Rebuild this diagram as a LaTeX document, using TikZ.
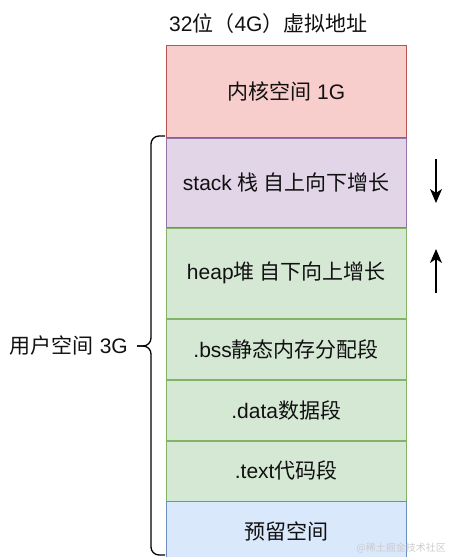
\documentclass[tikz,border=0pt]{standalone}
\usepackage{fontspec}
\setmainfont{Liberation Sans}
\newfontfamily\cjk{Noto Sans CJK SC}
\usetikzlibrary{arrows.meta}
\definecolor{kfill}{HTML}{F8CECC}
\definecolor{kdraw}{HTML}{B85450}
\definecolor{sfill}{HTML}{E1D5E7}
\definecolor{sdraw}{HTML}{9673A6}
\definecolor{gfill}{HTML}{D5E8D4}
\definecolor{gdraw}{HTML}{82B366}
\definecolor{bfill}{HTML}{DAE8FC}
\definecolor{bdraw}{HTML}{6C8EBF}
\definecolor{txt}{HTML}{111111}
\begin{document}
\begin{tikzpicture}[x=1pt,y=-1pt,
  seg/.style={draw, line width=0.9pt, minimum width=240.5pt, inner sep=0pt, anchor=north west,
    font=\fontsize{21}{24}\selectfont, text=txt},
  lbl/.style={inner sep=0pt, font=\fontsize{21}{24}\selectfont, text=txt},
  growarrow/.style={draw=black, line width=1.5pt, -{Stealth[length=14pt,width=12pt,inset=4pt]}},
  bracepath/.style={draw=black, line width=1.3pt, rounded corners=8pt}
]
\useasboundingbox (0,0) rectangle (449,557);
\node[lbl, anchor=west] (title) at (169,24) {32{\cjk 位（}4G{\cjk ）虚拟地址}};
\node[seg, fill=kfill, draw=kdraw, minimum height=92pt] (kernel) at (165.5,45) {{\cjk 内核空间} 1G};
\node[seg, fill=sfill, draw=sdraw, minimum height=89pt] (stack) at (kernel.south west) {stack {\cjk 栈 自上向下增长}};
\node[seg, fill=gfill, draw=gdraw, minimum height=90pt] (heap) at (stack.south west) {heap{\cjk 堆 自下向上增长}};
\node[seg, fill=gfill, draw=gdraw, minimum height=60pt] (bss) at (heap.south west) {.bss{\cjk 静态内存分配段}};
\node[seg, fill=gfill, draw=gdraw, minimum height=60pt] (data) at (bss.south west) {.data{\cjk 数据段}};
\node[seg, fill=gfill, draw=gdraw, minimum height=60pt] (text) at (data.south west) {.text{\cjk 代码段}};
\node[seg, fill=bfill, draw=bdraw, minimum height=60pt] (reserved) at (text.south west) {{\cjk 预留空间}};
\node[lbl, anchor=east] (user) at (128,346) {{\cjk 用户空间} 3G};
\coordinate (sa1) at (436,159);
\coordinate (sa2) at (436,203);
\coordinate (ha1) at (436,293);
\coordinate (ha2) at (436,249);
\draw[growarrow] (sa1) -- (sa2);
\draw[growarrow] (ha1) -- (ha2);
\coordinate (btop) at (165,136);
\coordinate (bbot) at (165,555);
\coordinate (btip) at (137,346);
\draw[bracepath] (btop) -- (151,136) -- (151,346) -- (btip);
\draw[bracepath] (bbot) -- (151,555) -- (151,346) -- (btip);
\node[inner sep=0pt, anchor=east, font=\cjk\fontsize{10}{12}\selectfont, text=gray!40] (wm) at (446,548) {@稀土掘金技术社区};
\end{tikzpicture}
\end{document}
